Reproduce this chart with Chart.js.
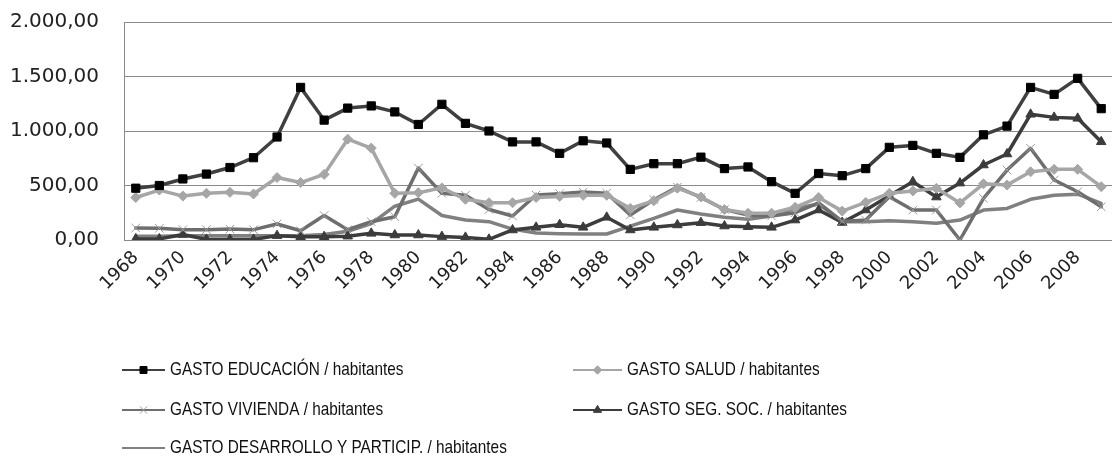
<!DOCTYPE html>
<html>
<head>
<meta charset="utf-8">
<script src="https://cdn.jsdelivr.net/npm/chart.js@4"></script>
<style>
    body { margin: 0; background: #fff; }
    #wrap { width: 1112px; height: 458px; overflow: hidden; }
</style>
</head>
<body>
<div id="wrap"><canvas id="gasto_canvas" width="1120" height="458"></canvas></div>
<script>
// years 1968 - 2009
const years = [];
for (let y = 1968; y <= 2009; y++) { years.push(String(y)); }

const gasto_educacion = [475, 500, 560, 605, 665, 755, 945, 1400, 1100, 1210,
    1230, 1175, 1060, 1245, 1070, 1000, 900, 900, 795, 910,
    890, 648, 700, 700, 760, 655, 670, 535, 428, 610,
    590, 655, 850, 868, 795, 758, 965, 1045, 1400, 1336,
    1483, 1205];

const gasto_salud = [390, 458, 403, 428, 437, 422, 573, 527, 602, 925,
    843, 428, 434, 478, 373, 342, 342, 390, 400, 410,
    410, 290, 360, 475, 395, 280, 245, 245, 300, 390,
    265, 345, 428, 450, 474, 340, 515, 504, 626, 648,
    648, 489];

const gasto_vivienda = [110, 107, 95, 95, 100, 95, 147, 85, 225, 95,
    168, 214, 660, 428, 410, 280, 220, 413, 425, 440,
    430, 230, 370, 485, 390, 280, 230, 220, 250, 340,
    170, 183, 397, 275, 275, 0, 382, 642, 841, 550,
    443, 305];

const gasto_seg_soc = [10, 10, 50, 5, 5, 5, 40, 30, 30, 35,
    61, 46, 46, 31, 24, 6, 92, 116, 140, 116,
    208, 92, 116, 138, 159, 128, 122, 116, 183, 275,
    160, 275, 405, 535, 394, 522, 688, 789, 1153, 1125,
    1116, 901];

const gasto_desarrollo = [35, 35, 40, 40, 40, 40, 40, 40, 50, 80,
    150, 310, 375, 225, 183, 168, 100, 64, 58, 55,
    55, 128, 199, 275, 238, 208, 190, 220, 290, 330,
    168, 168, 177, 168, 153, 183, 275, 290, 373, 410,
    420, 335];

const y_ticks = [0, 500, 1000, 1500, 2000];

const series_names = [
    "GASTO EDUCACIÓN / habitantes",
    "GASTO SALUD / habitantes",
    "GASTO VIVIENDA / habitantes",
    "GASTO SEG. SOC. / habitantes",
    "GASTO DESARROLLO Y PARTICIP. / habitantes"
];

function format_es(v) {
    const parts = Math.round(v).toString().replace(/\B(?=(\d{3})+(?!\d))/g, ".");
    return parts + ",00";
}

// legend slots: [x of line start, y center]
const legend_slots = [[122, 370], [573, 370], [122, 410], [573, 410], [122, 448]];

const legend_plugin = {
    id: 'excel_legend',
    afterDraw(chart) {
        const ctx = chart.ctx;
        ctx.save();
        chart.data.datasets.forEach((ds, i) => {
            const [x0, y] = legend_slots[i];
            const len = i % 2 === 0 ? 43 : 49;
            ctx.strokeStyle = ds.borderColor;
            ctx.lineWidth = 2;
            ctx.beginPath();
            ctx.moveTo(x0, y);
            ctx.lineTo(x0 + len, y);
            ctx.stroke();
            if (ds.pointStyle && ds.pointRadius > 0) {
                ctx.fillStyle = ds.pointBackgroundColor;
                ctx.strokeStyle = ds.pointBorderColor;
                ctx.lineWidth = ds.pointBorderWidth;
                Chart.helpers.drawPoint(ctx, {
                    pointStyle: ds.pointStyle,
                    radius: ds.pointRadius * 0.85,
                    rotation: 0,
                    borderWidth: ds.pointBorderWidth
                }, x0 + len / 2, y);
            }
            // narrow text, like the original condensed face
            const tx = x0 + len + 5;
            ctx.save();
            ctx.translate(tx, y);
            ctx.scale(0.83, 1);
            ctx.fillStyle = '#111';
            ctx.font = '18.5px "Liberation Sans", sans-serif';
            ctx.textBaseline = 'middle';
            ctx.textAlign = 'left';
            ctx.fillText(ds.label, 0, 0);
            ctx.restore();
        });
        ctx.restore();
    }
};

let config = {
    type: 'line',
    data: {
        labels: years,
        datasets: [
            {
                label: series_names[0],
                data: gasto_educacion,
                borderColor: '#404040',
                borderWidth: 3.5,
                pointStyle: 'rect',
                pointRadius: 5.8,
                pointBackgroundColor: '#000000',
                pointBorderColor: '#000000',
                pointBorderWidth: 1
            },
            {
                label: series_names[1],
                data: gasto_salud,
                borderColor: '#a6a6a6',
                borderWidth: 3.5,
                pointStyle: 'rectRot',
                pointRadius: 5,
                pointBackgroundColor: '#a6a6a6',
                pointBorderColor: '#a6a6a6',
                pointBorderWidth: 1
            },
            {
                label: series_names[2],
                data: gasto_vivienda,
                borderColor: '#6e6e6e',
                borderWidth: 3.5,
                pointStyle: 'crossRot',
                pointRadius: 6,
                pointBackgroundColor: '#9a9a9a',
                pointBorderColor: '#9a9a9a',
                pointBorderWidth: 1
            },
            {
                label: series_names[3],
                data: gasto_seg_soc,
                borderColor: '#3c3c3c',
                borderWidth: 3.5,
                pointStyle: 'triangle',
                pointRadius: 5.5,
                pointBackgroundColor: '#3c3c3c',
                pointBorderColor: '#3c3c3c',
                pointBorderWidth: 1
            },
            {
                label: series_names[4],
                data: gasto_desarrollo,
                borderColor: '#808080',
                borderWidth: 3.5,
                pointStyle: false,
                pointRadius: 0,
                pointBorderWidth: 0
            }
        ]
    },
    options: {
        responsive: false,
        animation: false,
        layout: { padding: { top: 22, right: 0, bottom: 0, left: 0 } },
        elements: {
            line: { tension: 0, borderJoinStyle: 'round', borderCapStyle: 'round' }
        },
        plugins: {
            legend: { display: false },
            tooltip: { enabled: false }
        },
        scales: {
            x: {
                offset: true,
                grid: { display: false, drawTicks: false },
                border: { display: true, color: '#8a8a8a', width: 1 },
                ticks: {
                    autoSkip: false,
                    minRotation: 45,
                    maxRotation: 45,
                    padding: 7,
                    color: '#222',
                    font: { family: 'DejaVu Sans', size: 18 },
                    callback: function(value, index) {
                        return index % 2 === 0 ? years[index] : '';
                    }
                },
                afterFit: function(scale) {
                    scale.height = 218;
                    scale.paddingLeft = 0;
                    scale.paddingRight = 0;
                }
            },
            y: {
                min: 0,
                max: 2000,
                afterBuildTicks: function(scale) {
                    scale.ticks = y_ticks.map(v => ({value: v}));
                },
                grid: { color: '#8a8a8a', lineWidth: 1, drawTicks: false },
                border: { display: true, color: '#8a8a8a', width: 1 },
                ticks: {
                    padding: 25,
                    color: '#222',
                    font: { family: 'DejaVu Sans', size: 20 },
                    callback: function(value) { return format_es(value); }
                },
                afterFit: function(scale) {
                    scale.width = 124;
                    scale.paddingTop = 0;
                    scale.paddingBottom = 0;
                }
            }
        }
    },
    plugins: [legend_plugin]
};

const gasto_plot = new Chart(document.getElementById('gasto_canvas'), config);
</script>
</body>
</html>
